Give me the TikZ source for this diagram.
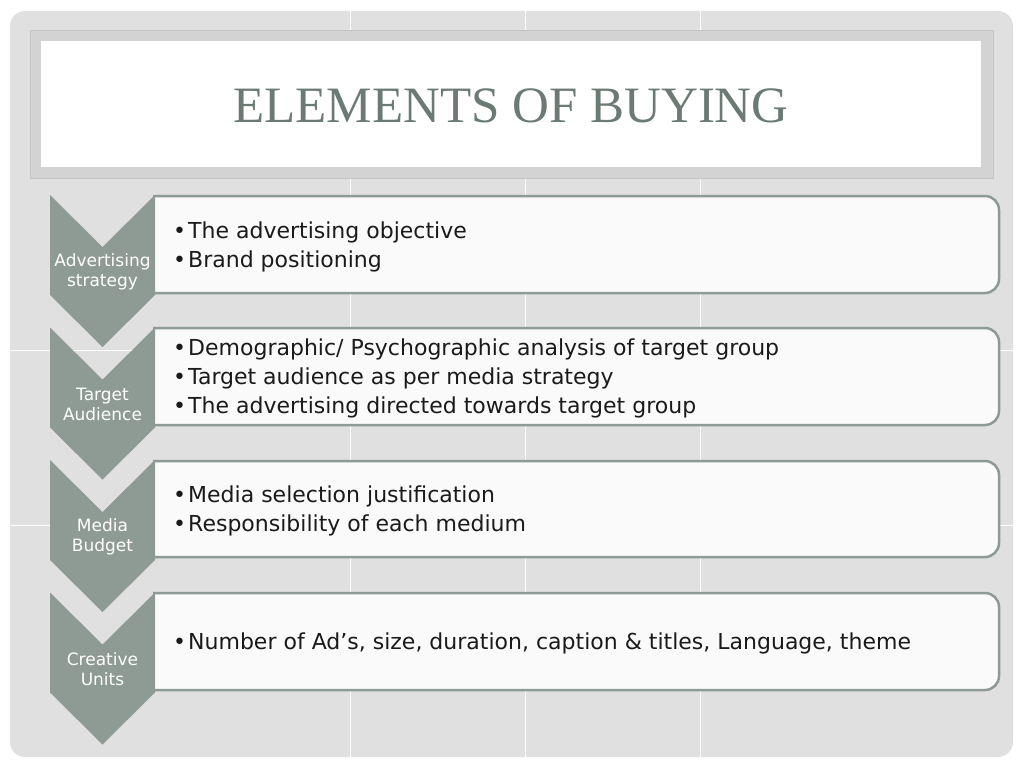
\documentclass[tikz,border=0pt]{standalone}
\usepackage{fontspec}
\setmainfont{Liberation Serif}
\newfontfamily\bodyfont{DejaVu Sans}
\usepackage{xcolor}
\usepackage{tikz}

\definecolor{panelgray}{HTML}{E0E0E0}
\definecolor{framegray}{HTML}{D3D3D3}
\definecolor{frameline}{HTML}{C4C4C4}
\definecolor{sage}{HTML}{8E9B95}
\definecolor{titlesage}{HTML}{6B7B73}
\definecolor{boxfill}{HTML}{FAFAFA}
\definecolor{inktext}{HTML}{1A1A1A}

\tikzset{
  chev/.style={fill=sage},
  chevtext/.style={text=white, align=center, inner sep=0pt, font=\bodyfont\fontsize{17}{20}\selectfont},
  boxline/.style={draw=sage, line width=2.5pt, fill=boxfill, rounded corners=14pt},
  items/.style={anchor=west, align=left, inner sep=0pt, text=inktext, font=\bodyfont\fontsize{22}{29}\selectfont},
  gridline/.style={white, line width=1pt}
}
\newcommand{\bul}{\makebox[15pt][l]{\textbullet}}

\begin{document}
\begin{tikzpicture}[x=1pt,y=-1pt]
    \useasboundingbox (0,0) rectangle (1024,768);
    % panel and grid
    \fill[panelgray, rounded corners=15pt] (10,11) rectangle (1013,757);
    \draw[gridline] (350,11) -- (350,757);
    \draw[gridline] (525,11) -- (525,757);
    \draw[gridline] (700,11) -- (700,757);
    \draw[gridline] (10,350) -- (1013,350);
    \draw[gridline] (10,525) -- (1013,525);
    % title
    \draw[frameline, fill=framegray, line width=1pt] (30,31) rectangle (993,178);
    \fill[white] (41,41) rectangle (981,167);
    \node[anchor=base, text=titlesage, font=\fontsize{51}{51}\selectfont] (title) at (511,122) {ELEMENTS OF BUYING};
    % boxes
    \path[boxline] (153,196) -- (999,196) -- (999,293) -- (153,293);
    \path[boxline] (153,328) -- (999,328) -- (999,425) -- (153,425);
    \path[boxline] (153,461) -- (999,461) -- (999,557) -- (153,557);
    \path[boxline] (153,593) -- (999,593) -- (999,690) -- (153,690);
    % chevrons
    \fill[chev] (50,195) -- ++(52.5,52) -- ++(52.5,-52) -- ++(0,100) -- ++(-52.5,52) -- ++(-52.5,-52) -- cycle;
    \fill[chev] (50,327.5) -- ++(52.5,52) -- ++(52.5,-52) -- ++(0,100) -- ++(-52.5,52) -- ++(-52.5,-52) -- cycle;
    \fill[chev] (50,460) -- ++(52.5,52) -- ++(52.5,-52) -- ++(0,100) -- ++(-52.5,52) -- ++(-52.5,-52) -- cycle;
    \fill[chev] (50,592.5) -- ++(52.5,52) -- ++(52.5,-52) -- ++(0,100) -- ++(-52.5,52) -- ++(-52.5,-52) -- cycle;
    \node[chevtext] (strategy) at (102.5,272) {Advertising\\strategy};
    \node[chevtext] (audience) at (102.5,404) {Target\\Audience};
    \node[chevtext] (budget) at (102.5,536.5) {Media\\Budget};
    \node[chevtext] (creative) at (102.5,669) {Creative\\Units};
    % items
    \node[items] (strategyitems) at (173,246.5) {\bul The advertising objective\\\bul Brand positioning};
    \node[items] (audienceitems) at (173,378) {\bul Demographic/ Psychographic analysis of target group\\\bul Target audience as per media strategy\\\bul The advertising directed towards target group};
    \node[items] (budgetitems) at (173,511) {\bul Media selection justification\\\bul Responsibility of each medium};
    \node[items] (creativeitems) at (173,643.5) {\bul Number of Ad’s, size, duration, caption \& titles, Language, theme};
\end{tikzpicture}
\end{document}
